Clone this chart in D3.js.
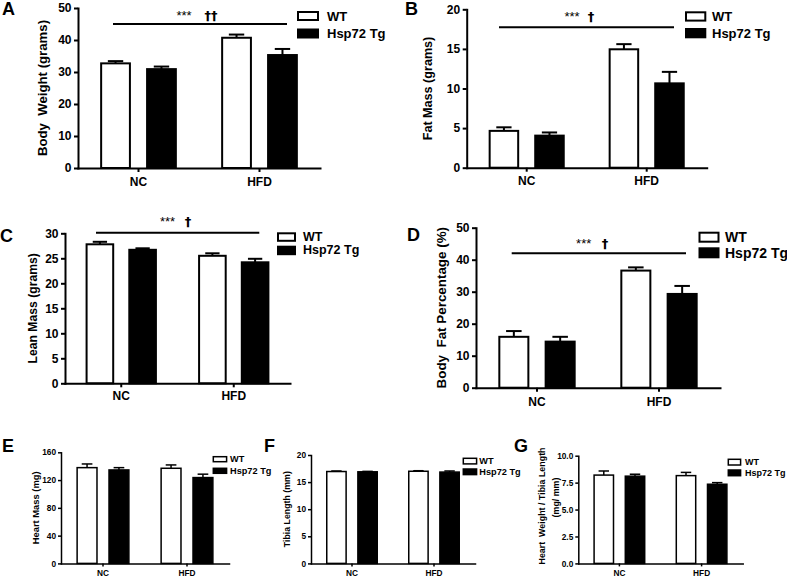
<!DOCTYPE html>
<html>
<head>
<meta charset="utf-8">
<script src="https://cdn.jsdelivr.net/npm/d3@7"></script>
<style>
  html, body { margin: 0; padding: 0; background: #fff; }
  svg { display: block; font-family: "Liberation Sans", Arial, sans-serif; }
</style>
</head>
<body>
<svg id="chart" width="787" height="578"></svg>
<script>
// ---------------- DATA ----------------
const groups = ["NC", "HFD"];
const seriesNames = ["WT", "Hsp72 Tg"];

// A: Body weight (grams)
const bodyWeightWT = [32.7, 40.7];
const bodyWeightWTErr = [0.7, 1.0];
const bodyWeightTg = [30.9, 35.3];
const bodyWeightTgErr = [0.8, 1.9];
const bodyWeightTicks = [0, 10, 20, 30, 40, 50];

// B: Fat mass (grams)
const fatMassWT = [4.65, 14.95];
const fatMassWTErr = [0.45, 0.65];
const fatMassTg = [4.05, 10.65];
const fatMassTgErr = [0.4, 1.45];
const fatMassTicks = [0, 5, 10, 15, 20];

// C: Lean mass (grams)
const leanMassWT = [27.8, 25.5];
const leanMassWTErr = [0.5, 0.5];
const leanMassTg = [26.7, 24.2];
const leanMassTgErr = [0.3, 0.7];
const leanMassTicks = [0, 5, 10, 15, 20, 25, 30];

// D: Body fat percentage (%)
const fatPctWT = [15.9, 36.6];
const fatPctWTErr = [1.8, 1.0];
const fatPctTg = [14.4, 29.3];
const fatPctTgErr = [1.5, 2.5];
const fatPctTicks = [0, 10, 20, 30, 40, 50];

// E: Heart mass (mg)
const heartMassWT = [137.9, 137.0];
const heartMassWTErr = [5.3, 4.8];
const heartMassTg = [134.6, 123.6];
const heartMassTgErr = [3.3, 4.9];
const heartMassTicks = [0, 40, 80, 120, 160];

// F: Tibia length (mm)
const tibiaWT = [16.95, 17.0];
const tibiaWTErr = [0.1, 0.1];
const tibiaTg = [16.9, 16.85];
const tibiaTgErr = [0.08, 0.2];
const tibiaTicks = [0, 5, 10, 15, 20];

// G: Heart weight / tibia length (mg/mm)
const hwTlWT = [8.2, 8.15];
const hwTlWTErr = [0.38, 0.3];
const hwTlTg = [8.1, 7.35];
const hwTlTgErr = [0.18, 0.15];
const hwTlTicks = [0, 2.5, 5.0, 7.5, 10.0];

// ---------------- LAYOUT ----------------
const panels = [
  { letter: "A", lx: 2, ly: 14.5, x0: 78, x1: 320, yb: 168, yt: 8, max: 50,
    vals: [bodyWeightWT, bodyWeightTg], errs: [bodyWeightWTErr, bodyWeightTgErr],
    ticks: bodyWeightTicks, fmt: d3.format("d"),
    ylabel: ["Body  Weight (grams)"], ylx: [42], tickFs: 12, labFs: 13.2, sw: 2, tk: 4, xpad: 5, ypad: 2.5,
    sig: { y: 24, xa: 113, xb: 287, ty: 20, t1x: 184, t2x: 211, t2: "\u2020\u2020", fs: 13 },
    leg: { x: 298, w: 20, h: 8, y1: 12, y2: 29.5, tx: 327, fs: 13 } },
  { letter: "B", lx: 405, ly: 14.5, x0: 466.7, x1: 706.7, yb: 167.7, yt: 9.3, max: 20,
    vals: [fatMassWT, fatMassTg], errs: [fatMassWTErr, fatMassTgErr],
    ticks: fatMassTicks, fmt: d3.format("d"),
    ylabel: ["Fat Mass (grams)"], ylx: [428], tickFs: 12, labFs: 12.6, sw: 2, tk: 4, xpad: 5, ypad: 2.5,
    sig: { y: 27.3, xa: 499, xb: 674, ty: 21, t1x: 572, t2x: 591, t2: "\u2020", fs: 13 },
    leg: { x: 686, w: 19.3, h: 8.3, y1: 12.3, y2: 29, tx: 712, fs: 13 } },
  { letter: "C", lx: 0, ly: 241.7, x0: 65, x1: 290, yb: 383.3, yt: 233.3, max: 30,
    vals: [leanMassWT, leanMassTg], errs: [leanMassWTErr, leanMassTgErr],
    ticks: leanMassTicks, fmt: d3.format("d"),
    ylabel: ["Lean Mass (grams)"], ylx: [33.3], tickFs: 12, labFs: 12.2, sw: 2, tk: 4, xpad: 4.5, ypad: 2.5,
    sig: { y: 232.7, xa: 96, xb: 259.3, ty: 226, t1x: 167.5, t2x: 188, t2: "\u2020", fs: 13 },
    leg: { x: 278, w: 17, h: 7.5, y1: 233.3, y2: 246.7, tx: 303, fs: 12.5 } },
  { letter: "D", lx: 407, ly: 240.7, x0: 476, x1: 720, yb: 387.7, yt: 227.7, max: 50,
    vals: [fatPctWT, fatPctTg], errs: [fatPctWTErr, fatPctTgErr],
    ticks: fatPctTicks, fmt: d3.format("d"),
    ylabel: ["Body  Fat Percentage (%)"], ylx: [441.7], tickFs: 12, labFs: 13.4, sw: 2, tk: 4, xpad: 5.5, ypad: 2.5,
    sig: { y: 253.3, xa: 511.7, xb: 686, ty: 247.5, t1x: 583.7, t2x: 605, t2: "\u2020", fs: 13 },
    leg: { x: 699.5, w: 19, h: 9, y1: 232.7, y2: 248.3, tx: 725, fs: 14 } },
  { letter: "E", lx: 2, ly: 452, x0: 61, x1: 229, yb: 563.4, yt: 452.3, max: 160,
    vals: [heartMassWT, heartMassTg], errs: [heartMassWTErr, heartMassTgErr],
    ticks: heartMassTicks, fmt: d3.format("d"),
    ylabel: ["Heart Mass (mg)"], ylx: [35.5], tickFs: 8.3, labFs: 9.4, sw: 1.5, tk: 3, xpad: 4, ypad: 2,
    sig: null,
    leg: { x: 213.3, w: 13.3, h: 5, y1: 456.7, y2: 468.3, tx: 230, fs: 9.2 } },
  { letter: "F", lx: 264, ly: 452, x0: 311, x1: 475, yb: 563.4, yt: 455, max: 20,
    vals: [tibiaWT, tibiaTg], errs: [tibiaWTErr, tibiaTgErr],
    ticks: tibiaTicks, fmt: d3.format("d"),
    ylabel: ["Tibia Length (mm)"], ylx: [287.3], tickFs: 8.3, labFs: 8.8, sw: 1.5, tk: 3, xpad: 4, ypad: 2,
    sig: null,
    leg: { x: 463.3, w: 13.3, h: 5.6, y1: 458.3, y2: 469, tx: 479.3, fs: 9.2 } },
  { letter: "G", lx: 514, ly: 452, x0: 578.3, x1: 742.7, yb: 563.4, yt: 455.7, max: 10,
    vals: [hwTlWT, hwTlTg], errs: [hwTlWTErr, hwTlTgErr],
    ticks: hwTlTicks, fmt: d3.format(".1f"),
    ylabel: ["Heart  Weight / Tibia Length", "(mg/ mm)"], ylx: [541.7, 555.8], ylc: [506, 497.5],
    tickFs: 8.3, labFs: 8.9, sw: 1.5, tk: 3, xpad: 4, ypad: 2,
    sig: null,
    leg: { x: 728.3, w: 12.3, h: 5.7, y1: 459.3, y2: 470, tx: 745, fs: 9 } }
];

// ---------------- DRAW ----------------
const svg = d3.select("#chart");
const fills = ["#ffffff", "#000000"];

panels.forEach(p => {
  const g = svg.append("g");

  const x = d3.scaleBand().domain(groups).range([p.x0, p.x1])
    .paddingInner(0.366).paddingOuter(0.183);
  const xs = d3.scaleBand().domain(seriesNames).range([0, x.bandwidth()])
    .paddingInner(0.33).paddingOuter(0);
  const y = d3.scaleLinear().domain([0, p.max]).range([p.yb, p.yt]);

  const bw = xs.bandwidth() - p.sw;

  seriesNames.forEach((s, si) => {
    const rows = groups.map((grp, gi) => ({ grp, v: p.vals[si][gi], e: p.errs[si][gi] }));
    const eg = g.append("g").attr("stroke", "#000").attr("stroke-width", p.sw);
    eg.selectAll("line.v").data(rows).join("line")
      .attr("x1", d => x(d.grp) + xs(s) + xs.bandwidth() / 2)
      .attr("x2", d => x(d.grp) + xs(s) + xs.bandwidth() / 2)
      .attr("y1", d => y(d.v))
      .attr("y2", d => y(d.v + d.e));
    eg.selectAll("line.c").data(rows).join("line")
      .attr("x1", d => x(d.grp) + xs(s) + xs.bandwidth() * 0.25)
      .attr("x2", d => x(d.grp) + xs(s) + xs.bandwidth() * 0.75)
      .attr("y1", d => y(d.v + d.e))
      .attr("y2", d => y(d.v + d.e));
    g.append("g").selectAll("rect").data(rows).join("rect")
      .attr("x", d => x(d.grp) + xs(s) + p.sw / 2)
      .attr("width", bw)
      .attr("y", d => y(d.v))
      .attr("height", d => y(0) - y(d.v))
      .attr("fill", fills[si])
      .attr("stroke", "#000")
      .attr("stroke-width", p.sw);
  });

  const ya = g.append("g").attr("transform", `translate(${p.x0},0)`)
    .call(d3.axisLeft(y).tickValues(p.ticks).tickFormat(p.fmt)
      .tickSize(p.tk).tickSizeOuter(0).tickPadding(p.ypad));
  const xa = g.append("g").attr("transform", `translate(0,${p.yb})`)
    .call(d3.axisBottom(x).tickSize(p.tk).tickSizeOuter(0).tickPadding(p.xpad));
  [ya, xa].forEach(a => {
    a.select(".domain").attr("stroke-width", p.sw).attr("stroke-linecap", "square");
    a.selectAll(".tick line").attr("stroke-width", p.sw);
    a.selectAll("text").attr("font-size", p.tickFs).attr("font-weight", "bold")
      .attr("font-family", "Liberation Sans, Arial, sans-serif").attr("fill", "#000");
  });

  const yc = (p.yb + p.yt) / 2;
  p.ylabel.forEach((t, i) => {
    const cy = p.ylc ? p.ylc[i] : yc;
    g.append("text")
      .attr("transform", `translate(${p.ylx[i]},${cy}) rotate(-90)`)
      .attr("text-anchor", "middle")
      .attr("dominant-baseline", "central")
      .attr("font-size", p.labFs).attr("font-weight", "bold")
      .style("white-space", "pre")
      .text(t);
  });

  g.append("text").attr("x", p.lx).attr("y", p.ly)
    .attr("font-size", 18).attr("font-weight", "bold").text(p.letter);

  if (p.sig) {
    g.append("line").attr("x1", p.sig.xa).attr("x2", p.sig.xb)
      .attr("y1", p.sig.y).attr("y2", p.sig.y)
      .attr("stroke", "#000").attr("stroke-width", 2);
    g.append("text").attr("x", p.sig.t1x).attr("y", p.sig.ty)
      .attr("text-anchor", "middle").attr("font-size", p.sig.fs).attr("fill", "#000").text("***");
    g.append("text").attr("x", p.sig.t2x).attr("y", p.sig.ty)
      .attr("text-anchor", "middle").attr("font-size", p.sig.fs)
      .attr("font-family", "DejaVu Sans, sans-serif").attr("font-weight", "bold")
      .attr("fill", "#000").text(p.sig.t2);
  }

  const L = p.leg;
  seriesNames.forEach((s, si) => {
    const by = si === 0 ? L.y1 : L.y2;
    g.append("rect").attr("x", L.x).attr("y", by).attr("width", L.w).attr("height", L.h)
      .attr("fill", fills[si]).attr("stroke", "#000").attr("stroke-width", p.sw);
    g.append("text").attr("x", L.tx).attr("y", by + L.h / 2)
      .attr("dominant-baseline", "central")
      .attr("font-size", L.fs).attr("font-weight", "bold").text(s);
  });
});
</script>
</body>
</html>
